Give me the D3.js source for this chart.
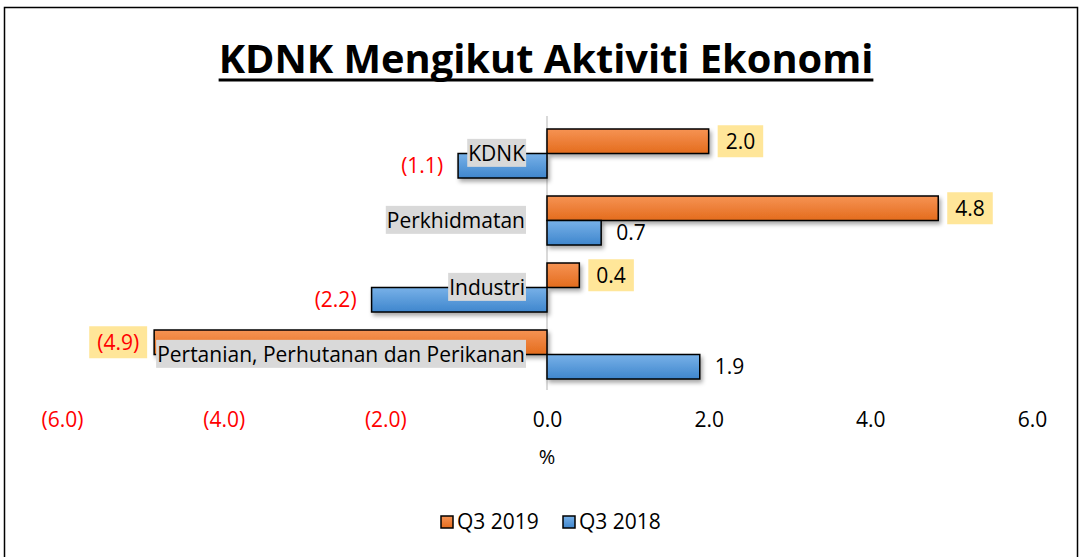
<!DOCTYPE html>
<html>
<head>
<meta charset="utf-8">
<script src="https://cdn.jsdelivr.net/npm/d3@7"></script>
<style>
  body { margin: 0; background: #fff; }
  svg { display: block; font-family: "Open Sans", sans-serif; }
</style>
</head>
<body>
<svg id="chart" width="1083" height="557"></svg>
<script>
// data (bar lengths; labels are shown to one decimal)
var categories = ["KDNK", "Perkhidmatan", "Industri", "Pertanian, Perhutanan dan Perikanan"];
var seriesNames = ["Q3 2019", "Q3 2018"];
var q3_2019 = [2.0, 4.84, 0.4, -4.86];
var q3_2018 = [-1.1, 0.67, -2.17, 1.89];
var tickValues = [-6, -4, -2, 0, 2, 4, 6];

var width = 1083, height = 557;
var svg = d3.select("#chart");

var defs = svg.append("defs");
var grads = [
    { id: "gOrange", top: "#f69354", bottom: "#e46c1d" },
    { id: "gBlue", top: "#78b1e8", bottom: "#3f86cd" }
];
grads.forEach(function (g) {
    var lg = defs.append("linearGradient").attr("id", g.id)
        .attr("x1", 0).attr("y1", 0).attr("x2", 0).attr("y2", 1);
    lg.append("stop").attr("offset", "0%").attr("stop-color", g.top);
    lg.append("stop").attr("offset", "100%").attr("stop-color", g.bottom);
});
defs.append("filter").attr("id", "shadow").attr("x", "-10%").attr("y", "-30%")
    .attr("width", "130%").attr("height", "180%")
    .append("feDropShadow").attr("dx", 2).attr("dy", 3)
    .attr("stdDeviation", 2).attr("flood-color", "#000").attr("flood-opacity", 0.35);

var fills = { "Q3 2019": "url(#gOrange)", "Q3 2018": "url(#gBlue)" };

// outer border
svg.append("rect")
    .attr("x", 4.5).attr("y", 7.5)
    .attr("width", 1073).attr("height", 570)
    .attr("fill", "none").attr("stroke", "#000").attr("stroke-width", 1.5);

// title
var title = svg.append("text")
    .attr("x", 546).attr("y", 73)
    .attr("text-anchor", "middle")
    .style("font-weight", "bold")
    .style("font-size", "38px")
    .style("fill", "#000")
    .text("KDNK Mengikut Aktiviti Ekonomi");
var tw = title.node().getComputedTextLength();
title.style("font-size", (38 * 655 / tw) + "px");
var tb = title.node().getBBox();
svg.append("line")
    .attr("x1", tb.x).attr("x2", tb.x + tb.width)
    .attr("y1", 80).attr("y2", 80)
    .attr("stroke", "#000").attr("stroke-width", 3);

// scales
var x = d3.scaleLinear().domain([-6, 6]).range([62, 1032]);
var y0 = d3.scaleBand().domain(categories).range([120, 388]);
var y1 = d3.scaleBand().domain(seriesNames).range([9, 58]);

// zero line
svg.append("line")
    .attr("x1", x(0)).attr("x2", x(0))
    .attr("y1", 116).attr("y2", 390)
    .attr("stroke", "#d9d9d9").attr("stroke-width", 2);

var rows = categories.map(function (c, i) {
    return { cat: c, values: [
        { s: "Q3 2019", v: q3_2019[i] },
        { s: "Q3 2018", v: q3_2018[i] }
    ] };
});

var groups = svg.selectAll("g.cat")
    .data(rows)
    .enter().append("g")
    .attr("class", "cat")
    .attr("transform", function (d) { return "translate(0," + y0(d.cat) + ")"; });

groups.selectAll("rect.bar")
    .data(function (d) { return d.values; })
    .enter().append("rect")
    .attr("class", "bar")
    .attr("x", function (d) { return x(Math.min(0, d.v)); })
    .attr("y", function (d) { return y1(d.s); })
    .attr("width", function (d) { return Math.abs(x(d.v) - x(0)); })
    .attr("height", y1.bandwidth())
    .attr("fill", function (d) { return fills[d.s]; })
    .attr("stroke", "#000").attr("stroke-width", 1.5)
    .attr("filter", "url(#shadow)");

function fmt(v) {
    return v < 0 ? "(" + Math.abs(v).toFixed(1) + ")" : v.toFixed(1);
}

// value labels
groups.each(function (row) {
    var g = d3.select(this);
    row.values.forEach(function (d) {
        var cy = y1(d.s) + y1.bandwidth() / 2;
        var t = g.append("text")
            .attr("y", cy)
            .attr("dy", "0.35em")
            .style("font-size", "21px")
            .style("fill", d.v < 0 ? "#ff0000" : "#000")
            .text(fmt(d.v));
        if (d.s === "Q3 2019") {
            var w = t.node().getComputedTextLength();
            var bw = w + 16;
            var bx = d.v >= 0 ? x(d.v) + 9 : x(d.v) - 7 - bw;
            g.insert("rect", "text")
                .attr("x", bx).attr("y", cy - 16)
                .attr("width", bw).attr("height", 32)
                .attr("fill", "#ffe699");
            t.attr("x", bx + bw / 2).attr("text-anchor", "middle");
        } else {
            if (d.v >= 0) t.attr("x", x(d.v) + 15).attr("text-anchor", "start");
            else t.attr("x", x(d.v) - 15).attr("text-anchor", "end");
        }
    });
});

// category labels with grey background
groups.each(function (row) {
    var g = d3.select(this);
    var t = g.append("text")
        .attr("x", x(0) - 22)
        .attr("y", y0.bandwidth() / 2)
        .attr("dy", "0.35em")
        .attr("text-anchor", "end")
        .style("font-size", "21px")
        .style("fill", "#000")
        .text(row.cat);
    var b = t.node().getBBox();
    g.insert("rect", function () { return t.node(); })
        .attr("x", b.x - 1).attr("y", b.y)
        .attr("width", b.width + 2).attr("height", b.height)
        .attr("fill", "#d9d9d9");
});

// x axis tick labels
var axis = svg.append("g")
    .attr("transform", "translate(0,404)")
    .call(d3.axisBottom(x).tickValues(tickValues).tickSize(0).tickPadding(8)
        .tickFormat(fmt));
axis.select(".domain").remove();
axis.selectAll("text")
    .style("font-family", "'Open Sans', sans-serif")
    .style("font-size", "21px")
    .style("fill", function (d) { return d < 0 ? "#ff0000" : "#000"; });

svg.append("text")
    .attr("x", x(0)).attr("y", 464)
    .attr("text-anchor", "middle")
    .style("font-size", "20px")
    .text("%");

// legend
var legendX = [441, 563];
var legend = svg.selectAll("g.legend")
    .data(seriesNames)
    .enter().append("g")
    .attr("class", "legend")
    .attr("transform", function (d, i) { return "translate(" + legendX[i] + ",516)"; });
legend.append("rect")
    .attr("width", 12).attr("height", 12)
    .attr("fill", function (d) { return fills[d]; })
    .attr("stroke", "#000").attr("stroke-width", 1.5);
legend.append("text")
    .attr("x", 16).attr("y", 6).attr("dy", "0.35em")
    .style("font-size", "21px")
    .text(function (d) { return d; });
</script>
</body>
</html>
